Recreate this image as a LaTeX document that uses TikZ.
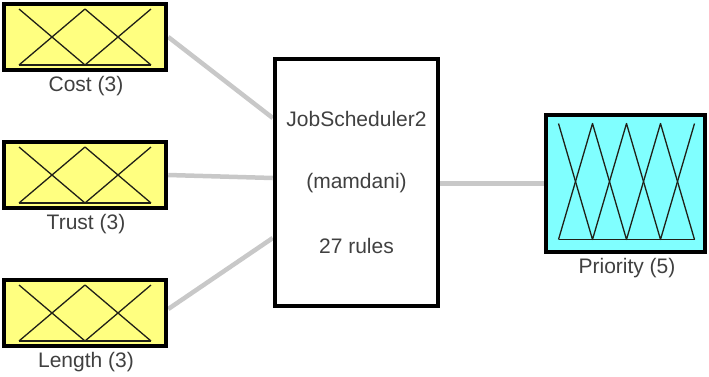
\documentclass[tikz,border=0pt]{standalone}
\usepackage{fontspec}
\setmainfont{Liberation Sans}
\usetikzlibrary{backgrounds}
\definecolor{mfyellow}{HTML}{FFFF80}
\definecolor{mfcyan}{HTML}{80FFFF}
\definecolor{wire}{HTML}{C8C8C8}
\definecolor{txt}{HTML}{404040}
\definecolor{mfline}{HTML}{202018}
\begin{document}
\begin{tikzpicture}[x=1pt,y=-1pt,
  varbox/.style={draw=black,line width=4.5pt,inner sep=0pt,minimum width=162pt,minimum height=66pt,fill=mfyellow},
  outbox/.style={draw=black,line width=4.5pt,inner sep=0pt,minimum width=159pt,minimum height=137pt,fill=mfcyan},
  sysbox/.style={draw=black,line width=4.5pt,inner sep=0pt,minimum width=163pt,minimum height=247pt,fill=white},
  lbl/.style={text=txt,font=\fontsize{21}{25}\selectfont,inner sep=0pt},
  wireline/.style={draw=wire,line width=4.5pt},
  mf/.style={draw=mfline,line width=1.3pt,line join=round}]
\useasboundingbox (0,0) rectangle (709,376);

% input boxes
\node[varbox] (cost) at (85,37) {};
\node[varbox] (trust) at (85,175) {};
\node[varbox] (length) at (85,313) {};
\node[sysbox] (sys) at (356.5,182.5) {};
\node[outbox] (prio) at (625.5,183.5) {};

% labels
\node[lbl] (costl) at (86,86) {Cost (3)};
\node[lbl] (trustl) at (86,224) {Trust (3)};
\node[lbl] (lengthl) at (86,362) {Length (3)};
\node[lbl] (prol) at (627,268) {Priority (5)};
\node[lbl] (t1) at (356.5,119) {JobScheduler2};
\node[lbl] (t2) at (356.5,183) {(mamdani)};
\node[lbl] (t3) at (356.5,246) {27 rules};

% connection points on the system box
\coordinate (in1) at (sys.west |- 0,118);
\coordinate (in2) at (sys.west |- 0,178);
\coordinate (in3) at (sys.west |- 0,238);

\begin{pgfonlayer}{background}
\draw[wireline] (cost.east) -- (in1);
\draw[wireline] (trust.east) -- (in2);
\draw[wireline] (length.east |- 0,309) -- (in3);
\draw[wireline] (sys.east |- prio.west) -- (prio.west);
\end{pgfonlayer}

% membership functions, 3 per input
\foreach \b in {cost,trust,length}{
  \begin{scope}[shift={(\b.center)}]
    \draw[mf] (-66,-28) -- (0,28) -- (66,-28);
    \draw[mf] (-66,28) -- (0,-28) -- (66,28);
    \draw[mf] (-66,28) -- (66,28);
  \end{scope}
}
% membership functions of output, 5
\begin{scope}[shift={(prio.center)}]
  \draw[mf] (-67,-60) -- (-33,56) -- (1,-60) -- (35,56) -- (69,-60);
  \draw[mf] (-67,56) -- (-33,-60) -- (1,56) -- (35,-60) -- (69,56);
  \draw[mf] (-67,56) -- (69,56);
\end{scope}
\end{tikzpicture}
\end{document}
